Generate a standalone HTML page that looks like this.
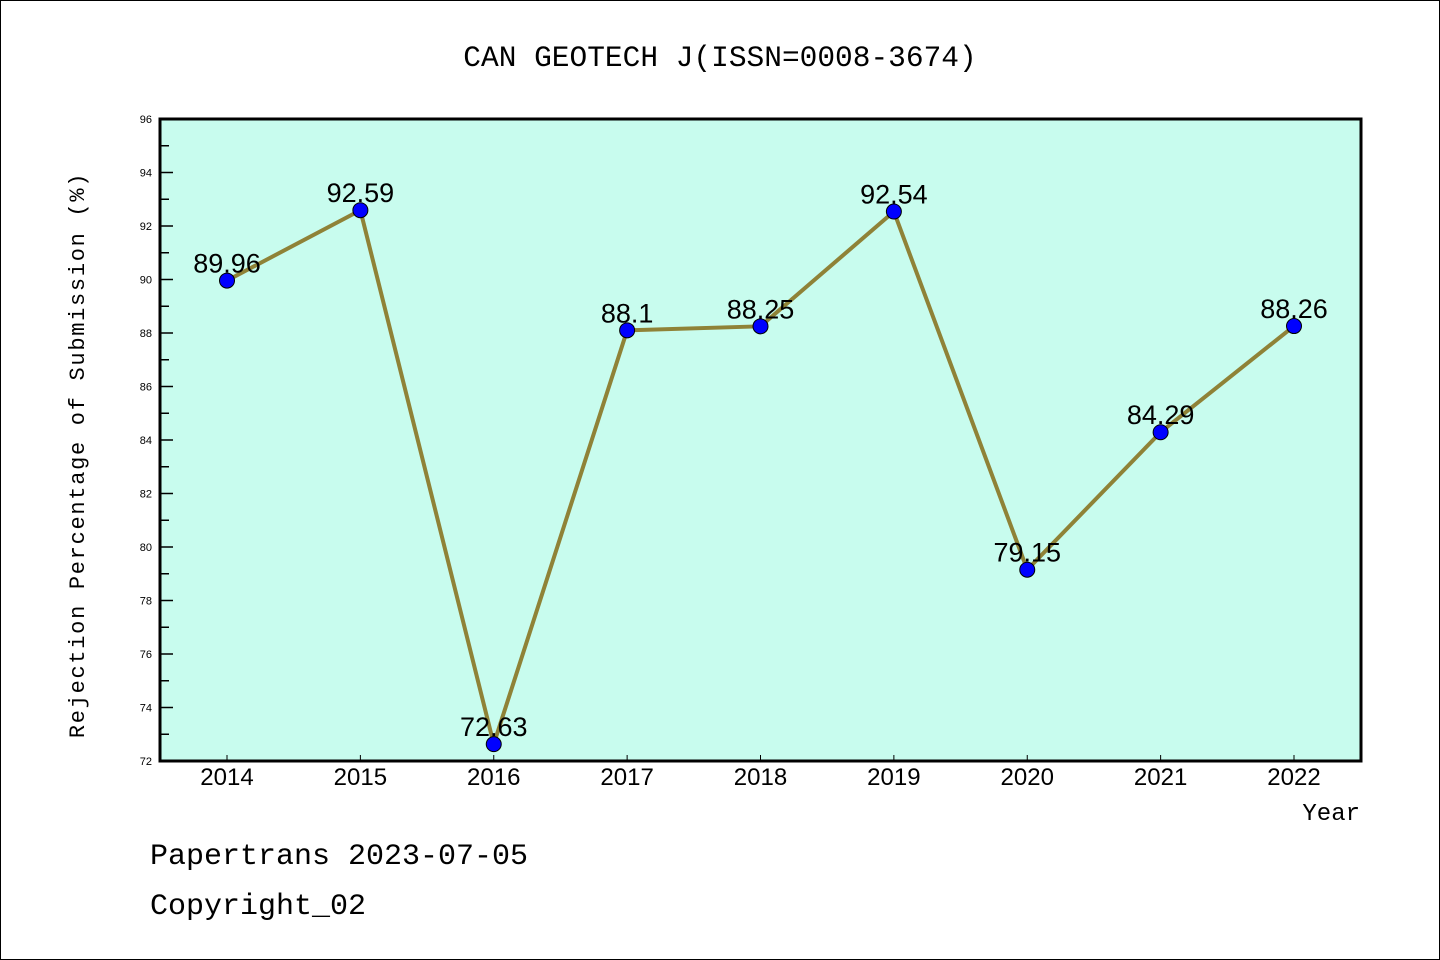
<!DOCTYPE html>
<html><head><meta charset="utf-8"><style>
body{margin:0;background:#fff;}
svg{display:block;font-family:"Liberation Mono","DejaVu Sans Mono",monospace;}
</style></head><body>
<svg width="1440" height="960" xmlns="http://www.w3.org/2000/svg">
<rect x="0.5" y="0.5" width="1439" height="959" fill="#fff" stroke="#000"/>
<text x="720" y="66" text-anchor="middle" font-size="29.5">CAN GEOTECH J(ISSN=0008-3674)</text>
<rect x="160" y="119" width="1201" height="642" fill="#c8fcee"/>
<g id="yaxis"></g><g id="xaxis"></g><g id="series"></g>
<rect x="160" y="119" width="1201" height="642" fill="none" stroke="#000" stroke-width="3"/>
<text transform="translate(84,455) rotate(-90)" text-anchor="middle" font-size="22" letter-spacing="1.7">Rejection Percentage of Submission (%)</text>
<text x="1360" y="820" text-anchor="end" font-size="24">Year</text>
<text x="150" y="864" font-size="30">Papertrans 2023-07-05</text>
<text x="150" y="914" font-size="30">Copyright_02</text>
</svg>
<script>
const categories=["2014","2015","2016","2017","2018","2019","2020","2021","2022"];
const values=[89.96,92.59,72.63,88.1,88.25,92.54,79.15,84.29,88.26];
const valueLabels=["89.96","92.59","72.63","88.1","88.25","92.54","79.15","84.29","88.26"];
const yTicks=[72,74,76,78,80,82,84,86,88,90,92,94,96];
const NS="http://www.w3.org/2000/svg";
const yMin=72,yMax=96,plotTop=119,plotBottom=761,plotLeft=160;
function yScale(v){return plotBottom-(v-yMin)/(yMax-yMin)*(plotBottom-plotTop);}
function xScale(i){return 227+i*(1294-227)/(categories.length-1);}
function mk(tag,attrs,parent,text){const e=document.createElementNS(NS,tag);for(const k in attrs)e.setAttribute(k,attrs[k]);if(text!==undefined)e.textContent=text;parent.appendChild(e);return e;}
const ya=document.getElementById('yaxis'),xa=document.getElementById('xaxis'),se=document.getElementById('series');
yTicks.forEach((t,i)=>{
 const l=mk('line',{x1:plotLeft,x2:plotLeft+13,y1:yScale(t),y2:yScale(t),stroke:'#000','stroke-width':1.5},ya);
 
 
 const tx=mk('text',{x:152,y:yScale(t)+4,'text-anchor':'end','font-size':11,'font-family':'Liberation Sans, sans-serif'},ya,String(t));
 
 
 if(i<yTicks.length-1){
  const m=mk('line',{x1:plotLeft,x2:plotLeft+9,y1:yScale(t+1),y2:yScale(t+1),stroke:'#000','stroke-width':1.5},ya);
  
  
 }
});
categories.forEach((c,i)=>{
 const l=mk('line',{x1:xScale(i),x2:xScale(i),y1:plotBottom,y2:plotBottom-6,stroke:'#000','stroke-width':1},xa);
 
 
 const t=mk('text',{x:xScale(i),y:785,'text-anchor':'middle','font-size':24,'font-family':'Liberation Sans, sans-serif'},xa,c);
 
 
});
const pts=values.map((v,i)=>xScale(i)+','+yScale(v)).join(' ');
const pl=mk('polyline',{points:pts,fill:'none',stroke:'#8f8237','stroke-width':4,'stroke-linejoin':'round'},se);


values.forEach((v,i)=>{
 const t=mk('text',{x:xScale(i),y:yScale(v)-8,'text-anchor':'middle','font-size':27,'font-family':'Liberation Sans, sans-serif'},se,valueLabels[i]);
 
 
});
values.forEach((v,i)=>{
 const c=mk('circle',{cx:xScale(i),cy:yScale(v),r:7.5,fill:'#0000ff',stroke:'#000','stroke-width':1},se);
 
 
});
</script>
</body></html>
